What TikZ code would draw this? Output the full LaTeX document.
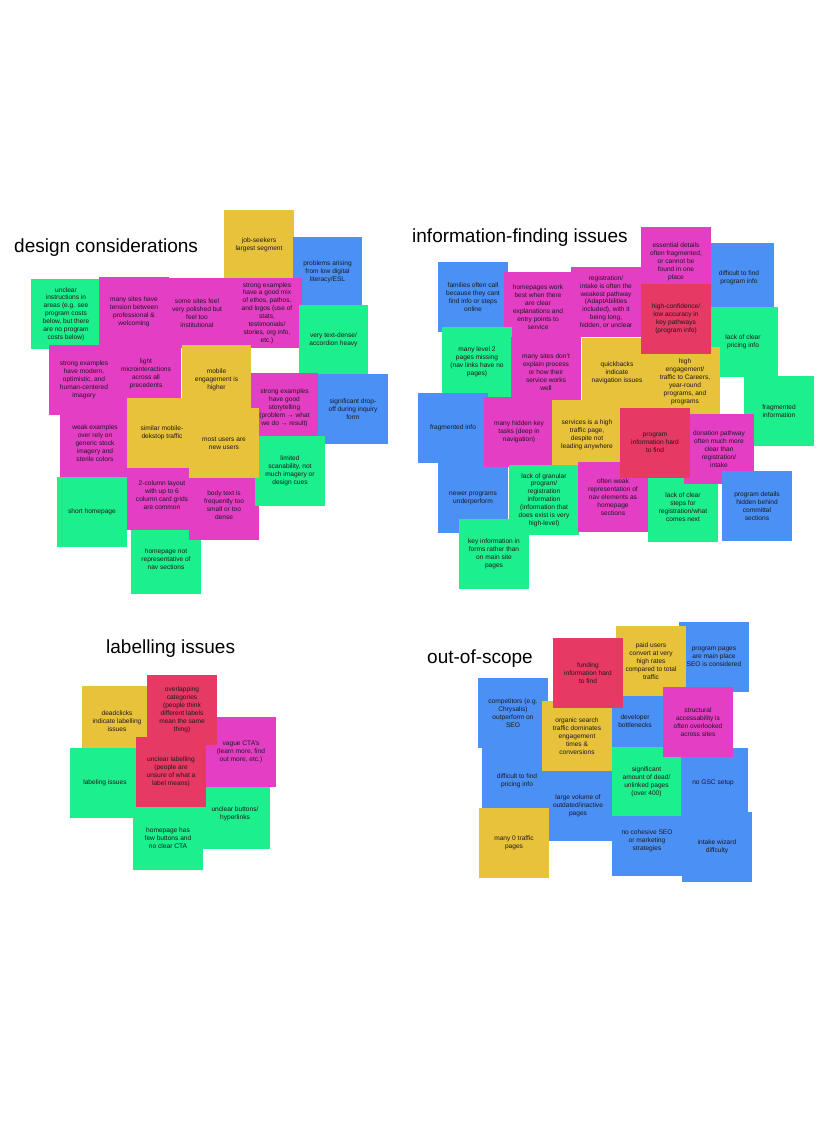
\documentclass[tikz,border=0pt]{standalone}
\usepackage{fontspec}
\setmainfont{Liberation Sans}
\definecolor{cpink}{RGB}{228,62,196}
\definecolor{cyellow}{RGB}{232,194,58}
\definecolor{cblue}{RGB}{74,144,245}
\definecolor{cgreen}{RGB}{28,240,140}
\definecolor{cred}{RGB}{230,58,100}
\definecolor{ntext}{RGB}{30,25,30}
\newcommand{\notefont}{\fontsize{6.6}{7.9}\selectfont}
\newcommand{\titlefont}{\fontsize{19}{22}\selectfont}
\tikzset{
  sticky/.style={inner sep=0pt, outer sep=0pt, align=center, font=\notefont, text=ntext, anchor=north west},
  heading/.style={anchor=base west, font=\titlefont, text=black, inner sep=0pt}
}
% \sticky{name}{color}{x1}{y1}{x2}{y2}{text}
\newcommand{\sticky}[7]{\node[sticky, fill=#2, minimum width={(#5-#3)*1pt}, minimum height={(#6-#4)*1pt}] (#1) at (#3,#4) {#7};}
\begin{document}
\begin{tikzpicture}[x=1pt,y=-1pt]
\useasboundingbox[fill=white] (0,0) rectangle (827,1129);

% ---------------- design considerations
\node[heading] (t-design) at (14,252) {design considerations};
\sticky{d-job}{cyellow}{224}{210}{294}{280}{job-seekers\\largest segment}
\sticky{d-prob}{cblue}{293}{237}{362}{307}{problems arising\\from low digital\\literacy/ESL}
\sticky{d-unclear}{cgreen}{31}{279}{101}{349}{unclear\\instructions in\\areas (e.g. see\\program costs\\below, but there\\are no program\\costs below)}
\sticky{d-tension}{cpink}{99}{277}{169}{347}{many sites have\\tension between\\professional \&\\welcoming}
\sticky{d-polished}{cpink}{162}{278}{232}{348}{some sites feel\\very polished but\\feel too\\institutional}
\sticky{d-mix}{cpink}{232}{278}{302}{348}{strong examples\\have a good mix\\of ethos, pathos,\\and logos (use of\\stats,\\testimonials/\\stories, org info,\\etc.)}
\sticky{d-dense}{cgreen}{299}{305}{368}{375}{very text-dense/\\accordion heavy}
\sticky{d-modern}{cpink}{49}{345}{119}{415}{strong examples\\have modern,\\optimistic, and\\human-centered\\imagery}
\sticky{d-light}{cpink}{111}{339}{181}{409}{light\\microinteractions\\across all\\precedents}
\sticky{d-weak}{cpink}{60}{408}{130}{478}{weak examples\\over rely on\\generic stock\\imagery and\\sterile colors}
\sticky{d-homerep}{cgreen}{131}{524}{201}{594}{homepage not\\representative of\\nav sections}
\sticky{d-twocol}{cpink}{127}{460}{197}{530}{2-column layout\\with up to 6\\column card grids\\are common}
\sticky{d-body}{cpink}{189}{470}{259}{540}{body text is\\frequently too\\small or too\\dense}
\sticky{d-story}{cpink}{251}{373}{318}{443}{strong examples\\have good\\storytelling\\(problem → what\\we do → result)}
\sticky{d-drop}{cblue}{318}{374}{388}{444}{significant drop-\\off during inquiry\\form}
\sticky{d-limited}{cgreen}{255}{436}{325}{506}{limited\\scanability, not\\much imagery or\\design cues}
\sticky{d-mobile}{cyellow}{182}{345}{251}{415}{mobile\\engagement is\\higher}
\sticky{d-similar}{cyellow}{127}{398}{197}{468}{similar mobile-\\dekstop traffic}
\sticky{d-most}{cyellow}{189}{408}{259}{478}{most users are\\new users}
\sticky{d-short}{cgreen}{57}{477}{127}{547}{short homepage}

% ---------------- information-finding issues
\node[heading] (t-info) at (412,242) {information-finding issues};
\sticky{i-families}{cblue}{438}{262}{508}{332}{families often call\\because they cant\\find info or steps\\online}
\sticky{i-homepages}{cpink}{504}{272}{572}{342}{homepages work\\best when there\\are clear\\explanations and\\entry points to\\service}
\sticky{i-registration}{cpink}{571}{267}{641}{337}{registration/\\intake is often the\\weakest pathway\\(AdaptAbilities\\included), with it\\being long,\\hidden, or unclear}
\sticky{i-level2}{cgreen}{442}{327}{512}{397}{many level 2\\pages missing\\(nav links have no\\pages)}
\sticky{i-process}{cpink}{511}{337}{581}{407}{many sites don't\\explain process\\or how their\\service works\\well}
\sticky{i-difficult}{cblue}{704}{243}{774}{313}{difficult to find\\program info}
\sticky{i-pricing}{cgreen}{708}{307}{778}{377}{lack of clear\\pricing info}
\sticky{i-quickbacks}{cyellow}{582}{338}{652}{408}{quickbacks\\indicate\\navigation issues}
\sticky{i-higheng}{cyellow}{650}{347}{720}{417}{high\\engagement/\\traffic to Careers,\\year-round\\programs, and\\programs}
\sticky{i-essential}{cpink}{641}{227}{711}{297}{essential details\\often fragmented,\\or cannot be\\found in one\\place}
\sticky{i-highconf}{cred}{641}{284}{711}{354}{high-confidence/\\low accuracy in\\key pathways\\(program info)}
\sticky{i-fraginfo}{cgreen}{744}{376}{814}{446}{fragmented\\information}
\sticky{i-fragblue}{cblue}{418}{393}{488}{463}{fragmented info}
\sticky{i-newer}{cblue}{438}{463}{508}{533}{newer programs\\underperform}
\sticky{i-hidden}{cpink}{484}{397}{554}{467}{many hidden key\\tasks (deep in\\navigation)}
\sticky{i-services}{cyellow}{552}{400}{622}{470}{services is a high\\traffic page,\\despite not\\leading anywhere}
\sticky{i-granular}{cgreen}{509}{465}{579}{535}{lack of granular\\program/\\registration\\information\\(information that\\does exist is very\\high-level)}
\sticky{i-keyforms}{cgreen}{459}{519}{529}{589}{key information in\\forms rather than\\on main site\\pages}
\sticky{i-weakrep}{cpink}{578}{462}{648}{532}{often weak\\representation of\\nav elements as\\homepage\\sections}
\sticky{i-steps}{cgreen}{648}{472}{718}{542}{lack of clear\\steps for\\registration/what\\comes next}
\sticky{i-donation}{cpink}{684}{414}{754}{484}{donation pathway\\often much more\\clear than\\registration/\\intake}
\sticky{i-proghard}{cred}{620}{408}{690}{478}{program\\information hard\\to find}
\sticky{i-committal}{cblue}{722}{471}{792}{541}{program details\\hidden behind\\committal\\sections}

% ---------------- labelling issues
\node[heading] (t-label) at (106,653) {labelling issues};
\sticky{l-buttons}{cgreen}{200}{779}{270}{849}{unclear buttons/\\hyperlinks}
\sticky{l-fewbuttons}{cgreen}{133}{806}{203}{870}{homepage has\\few buttons and\\no clear CTA}
\sticky{l-deadclicks}{cyellow}{82}{686}{152}{756}{deadclicks\\indicate labelling\\issues}
\sticky{l-labeling}{cgreen}{70}{748}{140}{818}{labeling issues}
\sticky{l-vague}{cpink}{206}{717}{276}{787}{vague CTA's\\(learn more, find\\out more, etc.)}
\sticky{l-overlapping}{cred}{147}{675}{217}{745}{overlapping\\categories\\(people think\\different labels\\mean the same\\thing)}
\sticky{l-unclearlab}{cred}{136}{737}{206}{807}{unclear labelling\\(people are\\unsure of what a\\label means)}

% ---------------- out-of-scope
\node[heading] (t-out) at (427,663) {out-of-scope};
\sticky{o-progpages}{cblue}{679}{622}{749}{692}{program pages\\are main place\\SEO is considered}
\sticky{o-developer}{cblue}{600}{686}{670}{756}{developer\\bottlenecks}
\sticky{o-competitors}{cblue}{478}{678}{548}{748}{competitors (e.g.\\Chrysalis)\\outperform on\\SEO}
\sticky{o-pricing}{cblue}{482}{746}{552}{816}{difficult to find\\pricing info}
\sticky{o-large}{cblue}{543}{771}{613}{841}{large volume of\\outdated/inactive\\pages}
\sticky{o-cohesive}{cblue}{612}{806}{682}{876}{no cohesive SEO\\or marketing\\strategies}
\sticky{o-intake}{cblue}{682}{812}{752}{882}{intake wizard\\diffculty}
\sticky{o-gsc}{cblue}{678}{748}{748}{818}{no GSC setup}
\sticky{o-significant}{cgreen}{612}{747}{681}{816}{significant\\amount of dead/\\unlinked pages\\(over 400)}
\sticky{o-organic}{cyellow}{542}{701}{612}{771}{organic search\\traffic dominates\\engagement\\times \&\\conversions}
\sticky{o-paid}{cyellow}{616}{626}{686}{696}{paid users\\convert at very\\high rates\\compared to total\\traffic}
\sticky{o-funding}{cred}{553}{638}{623}{708}{funding\\information hard\\to find}
\sticky{o-structural}{cpink}{663}{687}{733}{757}{structural\\accessability is\\often overlooked\\across sites}
\sticky{o-many0}{cyellow}{479}{808}{549}{878}{many 0 traffic\\pages}
\end{tikzpicture}
\end{document}
